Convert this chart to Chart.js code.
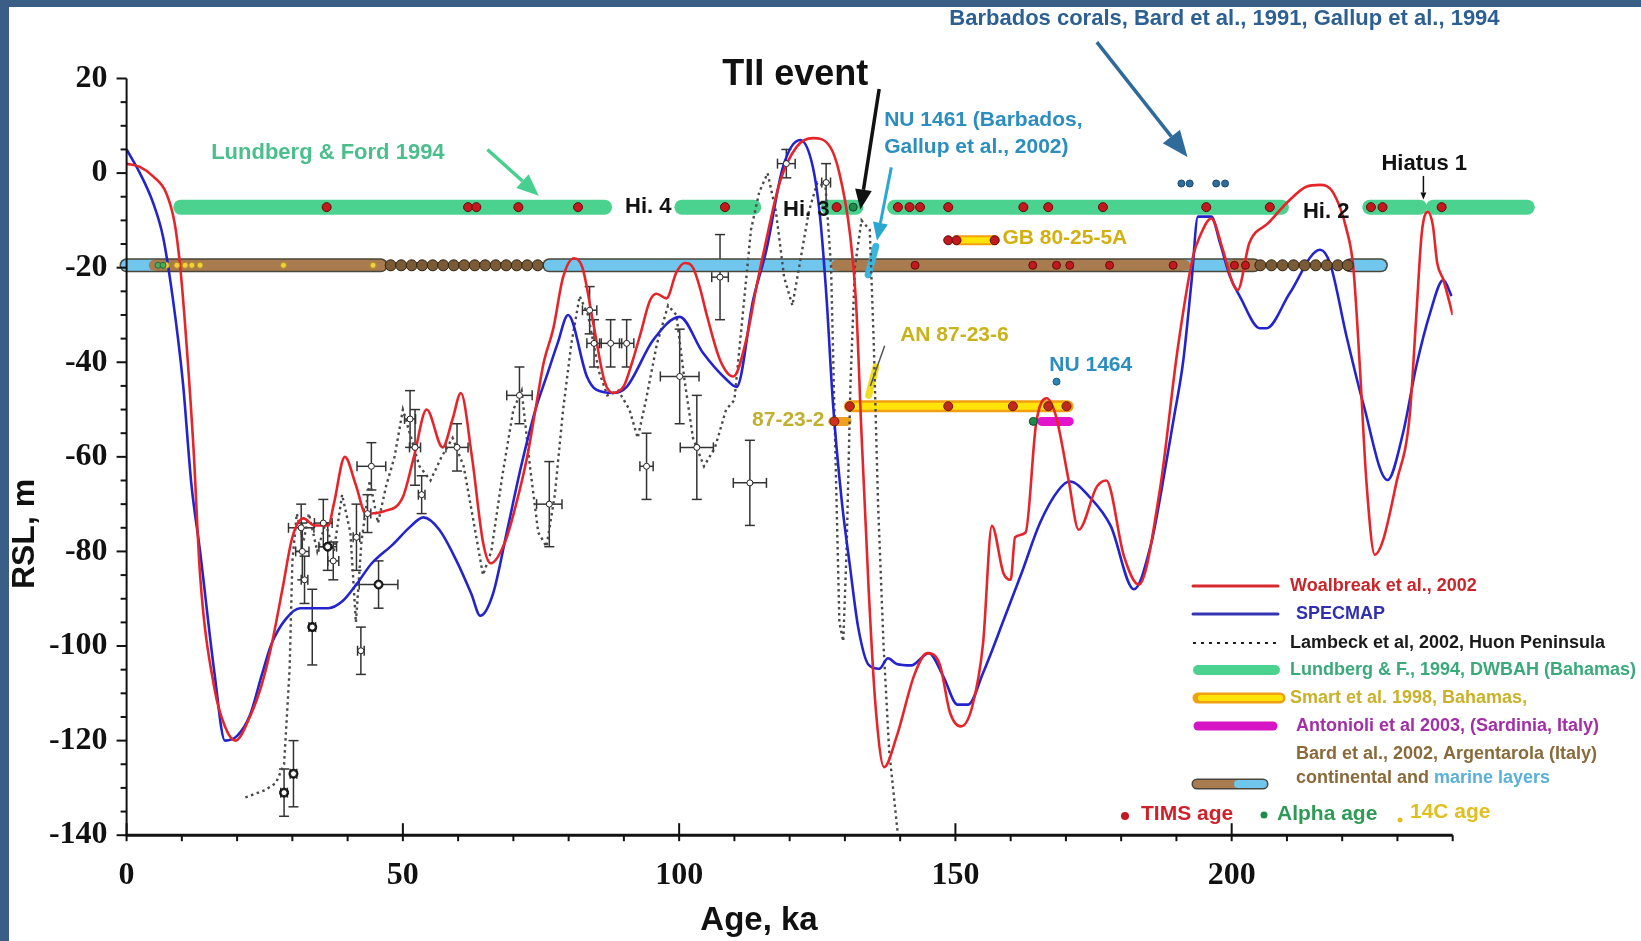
<!DOCTYPE html>
<html>
<head>
<meta charset="utf-8">
<script src="https://cdn.jsdelivr.net/npm/chart.js@4.4.1/dist/chart.umd.min.js"></script>
<style>
  html, body { margin: 0; padding: 0; background: #fff; overflow: hidden; }
  #wrap { position: relative; width: 1641px; height: 941px; }
</style>
</head>
<body>
<div id="wrap"><canvas id="rsl"></canvas></div>
<script>
// tick labels
const ageTickLabels = [0, 50, 100, 150, 200];
const rslTickLabels = [20, 0, -20, -40, -60, -80, -100, -120, -140];

// sea level curves [age ka, RSL m]
const woalbreak = [[0,2],[2.4,1.3],[4.8,-0.7],[7.2,-4.3],[8.7,-10.6],[9.7,-19.8],[10.9,-37],[12.1,-58],[13.3,-85],[15.9,-109],[17.8,-117],[19.7,-120],[22.3,-115],[24.5,-108],[26.2,-100],[28.2,-88],[30,-77],[32,-73],[34,-74.5],[36.5,-74.5],[37.5,-70],[39.5,-60],[41.5,-66],[43.3,-72],[46.6,-71.5],[50,-68.5],[52,-60],[54.3,-50],[57.2,-58],[59,-52],[60.5,-46.5],[62.5,-60],[64.5,-78],[65.9,-82.5],[68.5,-78],[70.5,-70],[72.5,-60],[74,-50],[75.5,-40],[77.2,-33],[79,-22],[81,-18],[82.5,-20],[84.5,-32],[86.5,-44],[88,-46.5],[90,-45],[91.5,-40],[93,-34],[94.7,-27],[95.9,-25.5],[97.7,-26.5],[99.5,-21],[101,-19],[102.5,-20],[103.7,-24],[105,-30],[107.4,-39.5],[109.8,-43],[112.2,-35],[114,-24],[115.8,-14],[118.2,-2],[121.3,5.6],[124.2,7.4],[127.3,5.6],[129,0],[130.9,-12.7],[132,-27],[133,-55],[134.3,-88],[135.5,-112],[137.1,-125.6],[139.4,-119],[142.6,-106],[144.9,-101.5],[147.2,-104],[149,-114],[151,-117],[153,-113],[155,-99.5],[156.6,-74.6],[158.7,-84.6],[160,-86],[160.8,-77],[162.7,-76],[164.6,-53],[166.5,-47.6],[168.2,-51.4],[170.5,-65],[172.3,-75.4],[175.6,-66.3],[177.3,-65],[180.5,-81],[183.2,-87],[187,-67],[190.2,-37.4],[193,-17.7],[194.2,-13.5],[196.3,-9.6],[198.4,-16.2],[200.2,-23.3],[201.1,-24.7],[203.2,-14.8],[206.6,-10.6],[210.5,-5.7],[213.5,-2.9],[216,-2.5],[218.4,-4.2],[220.8,-12],[222,-19.8],[223.2,-41],[224.4,-65.5],[225.9,-80.7],[227.4,-77.6],[229.8,-65.5],[232.2,-51.5],[233.4,-30.4],[234.4,-12.7],[235.5,-8.2],[236.4,-11],[237.2,-19],[238.3,-22.5],[240,-30]];

const specmap = [[0,5],[2.4,0],[4.8,-6.3],[6.6,-13.5],[8.4,-26.8],[10.2,-44.4],[11.7,-65.5],[13.3,-80],[15.9,-105.7],[17.8,-120],[20,-119],[22.3,-114.7],[24.5,-106],[26.2,-99.6],[28.8,-94.3],[31.4,-92],[36.5,-92],[39.1,-90.5],[41.7,-86.8],[44.3,-82.6],[48.2,-78.5],[51.4,-74.7],[53.7,-72.8],[56.6,-75.4],[59.8,-82.2],[62.4,-89],[64,-93.6],[66.3,-89],[68.9,-75.4],[71.4,-62],[74,-50],[76,-43],[78,-36],[79.9,-30],[83.3,-43],[85,-45.8],[88,-46.5],[90.5,-45.2],[95.3,-35.3],[100.1,-30.4],[104.3,-38],[108.6,-43.7],[110.4,-45.2],[113.4,-26.8],[115.8,-16.2],[118.8,1.3],[121.9,7],[124.2,1.3],[125.5,-9.2],[126.7,-26.8],[127.8,-48],[129.4,-69],[130.9,-83],[132.4,-96],[134.3,-104],[136.2,-104.8],[137.8,-102.6],[139.4,-103.8],[142,-104.1],[145.2,-101.5],[147.8,-106.4],[150.4,-112.4],[152.3,-112.4],[155,-105.7],[158.8,-94.3],[162,-84.5],[165.3,-74],[168.6,-67.1],[170.7,-65.2],[174.3,-68.5],[178.1,-74.6],[182.3,-88],[185.4,-78.5],[187.3,-67],[189.5,-52],[191.2,-40],[192.7,-23.3],[193.9,-9.2],[196.3,-9.2],[197.9,-14.8],[199.7,-21.9],[201.5,-26.1],[205.1,-32.8],[206.3,-32.8],[210.5,-25.4],[216,-16.2],[217.8,-19.1],[220.8,-34.6],[223.8,-48.7],[228.2,-64.9],[231,-55],[233.4,-40.9],[235.9,-29.6],[238.3,-22.6],[239.8,-26]];

const lambeckCurve = [[21.5,-132],[25,-130.5],[27,-129],[28.5,-125],[29.5,-105],[30,-82],[30.8,-72],[32,-78],[33,-72],[34.5,-80],[36,-74],[37.5,-80],[39,-68],[40.5,-76],[41.5,-95],[42.5,-78],[44,-65],[45.5,-74],[47,-66],[48.5,-60],[50,-50],[51.5,-56],[53,-62],[55,-65],[57,-60],[59,-56],[61,-62],[63,-75],[64.5,-85],[66,-80],[68,-64],[70,-50],[71.5,-46],[73,-62],[74.5,-76],[76,-79],[77.5,-68],[79,-50],[80.5,-36],[82,-26],[83.5,-30],[85.5,-42],[87,-47],[89,-46],[91,-50],[92.5,-56],[94,-48],[96,-36],[98,-28],[99.5,-30],[101,-44],[102.5,-56],[104.5,-62],[106.5,-58],[108.5,-50],[110,-48],[111.5,-30],[113,-12],[114.5,-4],[116,0],[117.5,-8],[119,-22],[120.5,-28],[122,-18],[123.5,-8],[125,-2],[126.5,-3],[127.5,-20],[128.3,-60],[129,-95],[129.7,-99],[130.3,-80],[131,-45],[131.8,-20],[133,-10],[134.5,-12],[135.2,-35],[136,-70],[137,-100],[138,-122],[139.6,-140]];

// Huon Peninsula samples [age, RSL, age error, RSL error]
const lambeckPoints = [[28.5,-131,0.6,5],[30.2,-127,0.6,7],[31.6,-75,2.3,5],[31.8,-80,1.2,6],[32.2,-86,0.6,5],[33.6,-96,0.6,8],[35.6,-74,1.6,5],[36.4,-79,1.6,5],[37.4,-82,1,4],[41.6,-77,0.6,7],[42.4,-101,0.6,5],[43.6,-72,0.6,4],[44.3,-62,2.6,5],[45.6,-87,3.5,5],[51.3,-52,1,6],[52.2,-58,1,8],[53.4,-68,0.6,4],[59.8,-58,2,5],[71.1,-47,2.3,6],[76.5,-70,2.3,9],[83.8,-29,1.3,5],[84.6,-36,1.3,5],[87.6,-36,2,5],[90.5,-36,1.3,5],[94.1,-62,1.2,7],[100.1,-43,3.5,10],[103.2,-58,3,11],[107.4,-22,1.5,9],[112.8,-65.5,3,9],[119.4,2,1.6,3],[126.6,-2,0.8,4]];
const lambeckSolid = [[28.5,-131],[30.2,-127],[33.6,-96],[36.4,-79],[45.6,-87]];

// speleothem / coral intervals
const lundbergLevel = -7.2;
const lundbergRuns = [[9.8,86.5],[100.5,113.5],[127,132],[139,209],[225,234],[236.5,253.5]];
const bardLevel = -19.5;
const bardOutline = [[0,46],[76.5,204],[221.5,227]];
const bardContinental = [[5,46],[128.5,191.5],[200,204]];
const bardMarine = [[0,5],[76.5,128.5],[191.5,200],[221.5,227]];
const bardCircles = [47.8,49.7,51.6,53.5,55.4,57.3,59.2,61.1,63,64.9,66.8,68.7,70.6,72.5,74.4,205.2,207.2,209.2,211.2,213.2,215.2,217.2,219.2,221];
const smartLevel = -49.3;
const smartRuns = [[130.9,170.3]];
const gbLevel = -14.2;
const gbRuns = [[150.2,157.1]];
const an2Level = -52.5;
const an2Runs = [[127.8,130.4]];
const antonioliLevel = -52.5;
const antonioliRuns = [[165.6,170.6]];
const an6Mark = [[134.3,-47],[135.6,-41]];
const nu1461Mark = [[134.2,-21.5],[135.6,-15.5]];

// dated samples
const timsLundberg = [36.2,61.8,63.3,70.9,81.7,108.3,128.5,139.6,141.7,143.6,148.7,162.3,166.8,176.7,195.4,206.9,225.2,227.3,238];
const timsBard = [142.7,164,168.3,170.7,177.9,189.4,200.5,202.5];
const timsSmart = [130.9,148.7,160.4,166.8,170.1];
const timsGB = [148.7,150.2,157.1];
const timsAn2 = [128.1];
const alphaLundberg = [131.5];
const alphaBard = [5.7,6.6];
const alphaAntonioli = [164.1];
const c14Bard = [7.2,9.1,10.6,11.8,13.3,28.4,44.6];
const nu1464 = [[168.3,-44.1]];
const barbadosLevel = -2.2;
const barbadosCorals = [190.9,192.4,197.2,198.8];

const pts = arr => arr.map(([x, y]) => ({ x, y }));
const atLevel = (ages, level) => ages.map(x => ({ x, y: level }));

function runs(list, level, color, width, order) {
  return list.map(([a, b]) => ({
    type: 'line', showLine: true, data: [{ x: a, y: level }, { x: b, y: level }],
    borderColor: color, borderWidth: width, borderCapStyle: 'round',
    pointRadius: 0, clip: false, order
  }));
}
function dots(data, fill, edge, r, order) {
  return { type: 'scatter', data, backgroundColor: fill, borderColor: edge, borderWidth: 1,
    pointRadius: r, clip: false, order };
}

const datasets = [
  ...runs(bardOutline, bardLevel, '#4a463a', 14, 9),
  ...runs(bardContinental, bardLevel, '#a87c4e', 11, 8),
  ...runs(bardMarine, bardLevel, '#70c6ec', 11, 8),
  ...runs(lundbergRuns, lundbergLevel, '#4cd28f', 15, 8),
  ...runs(smartRuns, smartLevel, '#f0a010', 12, 8),
  ...runs(smartRuns, smartLevel, '#ffe40a', 7, 7),
  ...runs(gbRuns, gbLevel, '#f0a010', 10, 8),
  ...runs(gbRuns, gbLevel, '#ffe40a', 6, 7),
  ...runs(an2Runs, an2Level, '#f0a020', 9, 8),
  ...runs(antonioliRuns, antonioliLevel, '#e414cc', 9, 8),
  { type: 'line', showLine: true, data: pts(an6Mark), borderColor: '#f2dc20', borderWidth: 7,
    borderCapStyle: 'round', pointRadius: 0, order: 7 },
  { type: 'line', showLine: true, data: pts(nu1461Mark), borderColor: '#3cb4dc', borderWidth: 7,
    borderCapStyle: 'round', pointRadius: 0, order: 7 },
  { type: 'line', showLine: true, data: pts(lambeckCurve), borderColor: '#4a4a4a', borderWidth: 2.4,
    borderDash: [2.5, 3.5], pointRadius: 0, tension: 0, clip: false, order: 4 },
  { type: 'line', showLine: true, data: pts(specmap), borderColor: '#2424cc', borderWidth: 2.6,
    cubicInterpolationMode: 'monotone', pointRadius: 0, order: 3 },
  { type: 'line', showLine: true, data: pts(woalbreak), borderColor: '#e6252b', borderWidth: 2.6,
    cubicInterpolationMode: 'monotone', pointRadius: 0, order: 2 },
  dots(pts(lambeckPoints.map(p => [p[0], p[1]])), '#ffffff', '#222', 3, 1),
  dots(pts(lambeckSolid), '#111', '#111', 4.5, 1),
  dots(atLevel(bardCircles, bardLevel), '#7b5a36', '#2a2012', 5.5, 1),
  dots(atLevel(timsLundberg, lundbergLevel), '#c4181c', '#5a1010', 4.5, 0),
  dots(atLevel(timsBard, bardLevel), '#c4181c', '#5a1010', 4, 0),
  dots(atLevel(timsSmart, smartLevel), '#c4281c', '#6a2010', 4.5, 0),
  dots(atLevel(timsGB, gbLevel), '#c4181c', '#5a1010', 4.5, 0),
  dots(atLevel(timsAn2, an2Level), '#d0301c', '#6a2010', 4.5, 0),
  dots(atLevel(alphaLundberg, lundbergLevel), '#1f8a4a', '#0f4a2a', 4, 0),
  dots(atLevel(alphaBard, bardLevel), '#4caa5a', '#2a6a3a', 3, 0),
  dots(atLevel(alphaAntonioli, antonioliLevel), '#1f8a4a', '#0f4a2a', 4, 0),
  dots(atLevel(c14Bard, bardLevel), '#f2d040', '#b09020', 3, 0),
  dots(pts(nu1464), '#2b86b4', '#1a5a80', 3.5, 0),
  dots(atLevel(barbadosCorals, barbadosLevel), '#2d6e9e', '#1a4a70', 3.5, 0)
];

// annotations anchored in data units
const notes = [
  { t: 'Lundberg & Ford 1994', x: 15.3, y: 4.3, c: '#4bbf8b', s: 22 },
  { t: 'TII event', x: 107.8, y: 20.7, c: '#111', s: 36 },
  { t: 'NU 1461 (Barbados,', x: 137.1, y: 11.2, c: '#2c8dc0', s: 21 },
  { t: 'Gallup et al., 2002)', x: 137.1, y: 5.4, c: '#2c8dc0', s: 21 },
  { t: 'Barbados corals, Bard et al., 1991, Gallup et al., 1994', x: 148.9, y: 32.6, c: '#2c5f92', s: 22 },
  { t: 'Hi. 4', x: 90.2, y: -7.2, c: '#111', s: 22 },
  { t: 'Hi. 3', x: 118.8, y: -7.7, c: '#111', s: 22 },
  { t: 'Hi. 2', x: 212.9, y: -8.3, c: '#111', s: 22 },
  { t: 'Hiatus 1', x: 227.1, y: 1.9, c: '#111', s: 22 },
  { t: 'GB 80-25-5A', x: 158.5, y: -13.8, c: '#d2b010', s: 21 },
  { t: 'AN 87-23-6', x: 140, y: -34.2, c: '#c8b418', s: 21 },
  { t: '87-23-2', x: 126.3, y: -52.3, c: '#c0b030', s: 21, a: 'right' },
  { t: 'NU 1464', x: 167, y: -40.6, c: '#2c8dc0', s: 21 }
];
const arrows = [
  { from: [65.3, 5], to: [74.6, -4.8], c: '#48cf90', w: 3.5, h: 22 },
  { from: [136.2, 17.8], to: [132.8, -7.7], c: '#111', w: 3.5, h: 20 },
  { from: [138.4, 1.2], to: [135.8, -14.3], c: '#2ba8d0', w: 3, h: 18 },
  { from: [175.6, 27.7], to: [192, 3.4], c: '#2f6b9a', w: 3.5, h: 26 },
  { from: [234.7, -0.6], to: [234.7, -5.6], c: '#111', w: 1.5, h: 7 },
  { from: [137.2, -36.5], to: [134.6, -45], c: '#555', w: 1.5, h: 0 }
];

const sans = '"Liberation Sans", Arial, sans-serif';
const serif = '"Liberation Serif", "Times New Roman", serif';

function line(ctx, x1, y1, x2, y2) { ctx.beginPath(); ctx.moveTo(x1, y1); ctx.lineTo(x2, y2); ctx.stroke(); }
function drawArrow(ctx, x1, y1, x2, y2, color, w, h) {
  ctx.strokeStyle = color; ctx.fillStyle = color; ctx.lineWidth = w;
  const a = Math.atan2(y2 - y1, x2 - x1);
  const bx = x2 - h * Math.cos(a), by = y2 - h * Math.sin(a);
  line(ctx, x1, y1, bx, by);
  if (!h) return;
  const k = h * 0.42;
  ctx.beginPath(); ctx.moveTo(x2, y2);
  ctx.lineTo(bx + k * Math.sin(a), by - k * Math.cos(a));
  ctx.lineTo(bx - k * Math.sin(a), by + k * Math.cos(a));
  ctx.closePath(); ctx.fill();
}
function text(ctx, t, x, y, color, size, align) {
  ctx.font = 'bold ' + size + 'px ' + sans;
  ctx.fillStyle = color; ctx.textAlign = align || 'left'; ctx.textBaseline = 'middle';
  ctx.fillText(t, x, y);
}

const frame = {
  id: 'frame',
  beforeDraw(chart) {
    const ctx = chart.ctx;
    ctx.save();
    ctx.fillStyle = '#3a5e85'; ctx.fillRect(0, 0, chart.width, chart.height);
    ctx.fillStyle = '#ffffff'; ctx.fillRect(9, 7, chart.width - 9, chart.height - 7);
    ctx.restore();
  },
  beforeDatasetsDraw(chart) {
    const { ctx, scales: { x, y } } = chart;
    ctx.save(); ctx.strokeStyle = '#333'; ctx.lineWidth = 1.5;
    lambeckPoints.forEach(([a, r, ea, er]) => {
      const px = x.getPixelForValue(a), py = y.getPixelForValue(r);
      const l = x.getPixelForValue(a - ea), rr = x.getPixelForValue(a + ea);
      const t = y.getPixelForValue(r + er), b = y.getPixelForValue(r - er);
      line(ctx, l, py, rr, py); line(ctx, px, t, px, b);
      line(ctx, px - 5, t, px + 5, t); line(ctx, px - 5, b, px + 5, b);
      line(ctx, l, py - 5, l, py + 5); line(ctx, rr, py - 5, rr, py + 5);
    });
    ctx.restore();
  },
  afterDraw(chart) {
    const { ctx, scales: { x, y } } = chart;
    ctx.save();
    // axes
    const x0 = x.getPixelForValue(0), x1 = x.getPixelForValue(240);
    const yb = y.getPixelForValue(-140), yt = y.getPixelForValue(20);
    ctx.strokeStyle = '#111';
    ctx.lineWidth = 3; line(ctx, x0 - 1, yb, x1, yb);
    ctx.lineWidth = 2; line(ctx, x0, yt, x0, yb);
    y.ticks.forEach(t => {
      const p = y.getPixelForValue(t.value);
      line(ctx, x0 - (rslTickLabels.includes(t.value) ? 10 : 6), p, x0, p);
    });
    x.ticks.forEach(t => {
      const p = x.getPixelForValue(t.value);
      if (ageTickLabels.includes(t.value)) line(ctx, p, yb - 12, p, yb + 6);
      else line(ctx, p, yb, p, yb + 6);
    });
    // axis titles
    ctx.save();
    ctx.translate(25, 534); ctx.rotate(-Math.PI / 2);
    text(ctx, 'RSL, m', 0, 0, '#111', 32, 'center');
    ctx.restore();
    text(ctx, 'Age, ka', 759, 921, '#111', 33, 'center');
    // arrows and notes
    arrows.forEach(a => drawArrow(ctx, x.getPixelForValue(a.from[0]), y.getPixelForValue(a.from[1]),
      x.getPixelForValue(a.to[0]), y.getPixelForValue(a.to[1]), a.c, a.w, a.h));
    notes.forEach(n => text(ctx, n.t, x.getPixelForValue(n.x), y.getPixelForValue(n.y), n.c, n.s, n.a));
    // legend
    const sx1 = 1193, sx2 = 1278, tx = 1290;
    ctx.lineCap = 'round';
    ctx.strokeStyle = '#d82a2e'; ctx.lineWidth = 3; line(ctx, sx1, 586, sx2, 586);
    text(ctx, 'Woalbreak et al., 2002', tx, 586, '#c8262b', 18);
    ctx.strokeStyle = '#3434b4'; line(ctx, sx1, 614, sx2, 614);
    text(ctx, 'SPECMAP', tx + 6, 614, '#3030b0', 18);
    ctx.strokeStyle = '#222'; ctx.lineWidth = 2; ctx.lineCap = 'butt'; ctx.setLineDash([3, 5]);
    line(ctx, sx1, 643, sx2, 643); ctx.setLineDash([]);
    text(ctx, 'Lambeck et al, 2002, Huon Peninsula', tx, 643, '#1a1a1a', 18);
    ctx.lineCap = 'round';
    ctx.strokeStyle = '#4cd28f'; ctx.lineWidth = 10; line(ctx, sx1 + 5, 670, sx2 - 3, 670);
    text(ctx, 'Lundberg & F., 1994, DWBAH (Bahamas)', tx, 670, '#3aaa7a', 18);
    ctx.strokeStyle = '#f0a010'; ctx.lineWidth = 11; line(ctx, sx1 + 5, 698, sx2 + 2, 698);
    ctx.strokeStyle = '#ffe40a'; ctx.lineWidth = 6; line(ctx, sx1 + 8, 698, sx2 + 2, 698);
    text(ctx, 'Smart et al. 1998, Bahamas,', tx, 698, '#c9b12a', 18);
    ctx.strokeStyle = '#d614c4'; ctx.lineWidth = 9; line(ctx, sx1 + 5, 726, sx2 - 5, 726);
    text(ctx, 'Antonioli et al 2003, (Sardinia, Italy)', tx + 6, 726, '#a32fa8', 18);
    text(ctx, 'Bard et al., 2002, Argentarola (Italy)', tx + 6, 754, '#8a6a3a', 18);
    text(ctx, 'continental and ', tx + 6, 778, '#8a6a3a', 18);
    ctx.font = 'bold 18px ' + sans;
    const cw = ctx.measureText('continental and ').width;
    text(ctx, 'marine layers', tx + 6 + cw, 778, '#5ab0d8', 18);
    ctx.strokeStyle = '#4a463a'; ctx.lineWidth = 11; line(ctx, sx1 + 4, 784, sx1 + 70, 784);
    ctx.strokeStyle = '#a87c4e'; ctx.lineWidth = 8; line(ctx, sx1 + 4, 784, sx1 + 45, 784);
    ctx.strokeStyle = '#70c6ec'; line(ctx, sx1 + 45, 784, sx1 + 70, 784);
    const dot = (cx, cy, r, c) => { ctx.fillStyle = c; ctx.beginPath(); ctx.arc(cx, cy, r, 0, Math.PI * 2); ctx.fill(); };
    dot(1125, 816, 4, '#c4181c'); text(ctx, 'TIMS age', 1141, 814, '#d0202a', 21);
    dot(1264, 815, 3.5, '#1f8a4a'); text(ctx, 'Alpha age', 1277, 814, '#2f9a56', 21);
    dot(1400, 820, 2.5, '#e0c020'); text(ctx, '14C age', 1410, 812, '#e0c020', 21);
    ctx.restore();
  }
};

new Chart(document.getElementById('rsl'), {
  type: 'scatter',
  data: { datasets },
  options: {
    responsive: true,
    maintainAspectRatio: false,
    animation: false,
    devicePixelRatio: 1,
    events: [],
    layout: { padding: { top: 78.5, right: 188.3, left: 0, bottom: 0 } },
    plugins: { legend: { display: false }, tooltip: { enabled: false } },
    scales: {
      x: {
        type: 'linear', min: 0, max: 240,
        grid: { display: false, drawTicks: false },
        border: { display: false },
        ticks: {
          stepSize: 10, autoSkip: false, maxRotation: 0, padding: 21, color: '#111',
          font: { family: serif, size: 32, weight: 'bold' },
          callback: v => ageTickLabels.includes(v) ? String(v) : ''
        },
        afterFit: s => { s.height = 105.8; }
      },
      y: {
        type: 'linear', min: -140, max: 20,
        grid: { display: false, drawTicks: false },
        border: { display: false },
        ticks: {
          stepSize: 5, autoSkip: false, padding: 19, color: '#111',
          font: { family: serif, size: 32, weight: 'bold' },
          callback: v => rslTickLabels.includes(v) ? String(v) : ''
        },
        afterFit: s => { s.width = 126.6; }
      }
    }
  },
  plugins: [frame]
});
</script>
</body>
</html>
